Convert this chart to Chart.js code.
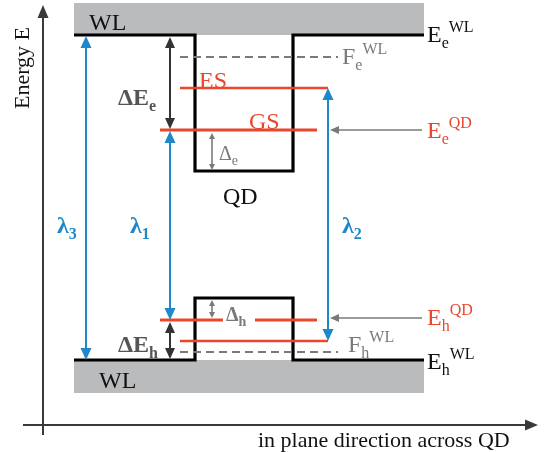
<!DOCTYPE html>
<html>
<head>
<meta charset="utf-8">
<script src="https://cdn.jsdelivr.net/npm/chart.js@4/dist/chart.umd.min.js"></script>
<style>
  html, body { margin: 0; padding: 0; background: #ffffff; }
  #wrap { width: 547px; height: 452px; }
</style>
</head>
<body>
<div id="wrap"><canvas id="diagram" width="547" height="452"></canvas></div>
<script>
// Band profile across the quantum dot (position along the plane, energy downwards on screen)
const bandX          = [74, 195, 195, 293, 293, 424];
const conductionEdge = [35, 35, 171, 171, 35, 35];
const valenceEdge    = [360, 360, 298, 298, 360, 360];

// Wetting-layer continuum blocks: [left, right] and [upper, lower] energies
const wlBoxX      = [74, 424];
const wlUpperBox  = [3, 35];
const wlLowerBox  = [360, 393];

// Confined levels: ES_e, GS_e, GS_h (two pieces around the label), ES_h
const levelStart  = [180, 160, 160, 255, 180];
const levelEnd    = [328, 317, 223, 317, 328];
const levelEnergy = [88, 130, 320, 320, 341];

// Quasi-Fermi levels of the wetting layer (electrons, holes)
const fermiStart  = [180, 180];
const fermiEnd    = [338, 338];
const fermiEnergy = [57, 352];

// Optical transitions lambda1, lambda2, lambda3
const lambdaNames  = ['1', '2', '3'];
const lambdaX      = [170, 328, 86];
const lambdaUpper  = [131, 88, 36];
const lambdaLower  = [320, 341, 360];

// Energy gaps: ΔE_e, ΔE_h, Δ_e, Δ_h
const gapX     = [170, 170, 212, 212];
const gapUpper = [37, 322, 133, 300];
const gapLower = [129, 359, 170, 318];

// Pointers to the dot energies E_e^QD, E_h^QD
const pointerFrom   = 422;
const pointerTo     = 330;
const pointerEnergy = [130, 318];

// Coordinate axes
const axisOrigin = [43, 425];
const axisEnds   = [538, 5];
const axisTails  = [23, 435];

// Texts: main, subscript, superscript
const labelMain = ['WL', 'WL', 'E', 'F', 'ES', 'GS', 'E', 'ΔE', 'Δ', 'QD', 'λ', 'λ', 'λ', 'Δ', 'ΔE', 'F', 'E', 'E'];
const labelSub  = ['', '', 'e', 'e', '', '', 'e', 'e', 'e', '', '3', '1', '2', 'h', 'h', 'h', 'h', 'h'];
const labelSup  = ['', '', 'WL', 'WL', '', '', 'QD', '', '', '', '', '', '', '', '', 'WL', 'QD', 'WL'];
const labelX    = [89, 99, 427, 342, 199, 249, 427, 118, 219, 223, 57, 130, 342, 226, 118, 348, 427, 427];
const labelY    = [22, 380, 34, 56, 80, 121, 130, 97, 153, 196, 225, 225, 225, 314, 344, 344, 317, 361];

const axisTitleY = 'Energy E';
const axisTitleX = 'in plane direction across QD';

const RED = '#e8472e', BLUE = '#1e88c8', DARK = '#333333', GREY = '#7a7a7a', BOX = '#b9bbbc';
const SERIF = '"Liberation Serif", "DejaVu Serif", serif';

const labelColor = [ '#111', '#111', '#111', GREY, RED, RED, RED, '#555', GREY, '#111',
                     BLUE, BLUE, BLUE, GREY, '#555', GREY, RED, '#111' ];
const labelBold  = [false, false, false, false, false, false, false, true, false, false,
                    true, true, true, true, true, false, false, false];

function pts(xs, ys) { return xs.map((x, i) => ({ x: x, y: ys[i] })); }

const datasets = [];
// wetting-layer blocks
datasets.push({ data: pts(wlBoxX, [wlUpperBox[0], wlUpperBox[0]]), fill: { value: wlUpperBox[1] },
  backgroundColor: BOX, borderWidth: 0, order: 10 });
datasets.push({ data: pts(wlBoxX, [wlLowerBox[1], wlLowerBox[1]]), fill: { value: wlLowerBox[0] },
  backgroundColor: BOX, borderWidth: 0, order: 10 });
// band edges
datasets.push({ data: pts(bandX, conductionEdge), borderColor: '#000', borderWidth: 3.2, order: 5,
  borderJoinStyle: 'miter', fill: false });
datasets.push({ data: pts(bandX, valenceEdge), borderColor: '#000', borderWidth: 3.2, order: 5,
  borderJoinStyle: 'miter', fill: false });
// Fermi levels
fermiEnergy.forEach((e, i) => datasets.push({
  data: pts([fermiStart[i], fermiEnd[i]], [e, e]), borderColor: GREY, borderWidth: 2,
  borderDash: [8, 5], order: 4, fill: false }));
// confined levels
levelEnergy.forEach((e, i) => datasets.push({
  data: pts([levelStart[i], levelEnd[i]], [e, e]), borderColor: RED,
  borderWidth: (i === 0 || i === 4) ? 2.4 : 3.2, order: 3, fill: false }));

function head(ctx, x, y, dx, dy, len, half, color) {
  const n = Math.hypot(dx, dy), ux = dx / n, uy = dy / n;
  ctx.beginPath();
  ctx.moveTo(x, y);
  ctx.lineTo(x - ux * len - uy * half, y - uy * len + ux * half);
  ctx.lineTo(x - ux * len + uy * half, y - uy * len - ux * half);
  ctx.closePath();
  ctx.fillStyle = color;
  ctx.fill();
}

function arrow(ctx, x1, y1, x2, y2, color, width, len, half, both) {
  const n = Math.hypot(x2 - x1, y2 - y1), ux = (x2 - x1) / n, uy = (y2 - y1) / n;
  ctx.beginPath();
  ctx.moveTo(both ? x1 + ux * len * 0.8 : x1, both ? y1 + uy * len * 0.8 : y1);
  ctx.lineTo(x2 - ux * len * 0.8, y2 - uy * len * 0.8);
  ctx.strokeStyle = color;
  ctx.lineWidth = width;
  ctx.stroke();
  head(ctx, x2, y2, ux, uy, len, half, color);
  if (both) head(ctx, x1, y1, -ux, -uy, len, half, color);
}

function richText(ctx, x, y, main, sub, sup, size, color, bold) {
  const w = bold ? 'bold ' : '';
  const base = y + size * 0.33;
  ctx.fillStyle = color;
  ctx.textBaseline = 'alphabetic';
  ctx.textAlign = 'left';
  ctx.font = w + size + 'px ' + SERIF;
  ctx.fillText(main, x, base);
  let cx = x + ctx.measureText(main).width;
  const small = Math.round(size * 0.68);
  ctx.font = w + small + 'px ' + SERIF;
  if (sub) { ctx.fillText(sub, cx, base + size * 0.26); cx += ctx.measureText(sub).width; }
  if (sup) { ctx.fillText(sup, cx, base - size * 0.42); }
}

const diagramPlugin = {
  id: 'bandDiagram',
  afterDatasetsDraw(chart) {
    const ctx = chart.ctx, sx = chart.scales.x, sy = chart.scales.y;
    const X = v => sx.getPixelForValue(v), Y = v => sy.getPixelForValue(v);
    ctx.save();
    // axes
    arrow(ctx, X(axisOrigin[0]), Y(axisTails[1]), X(axisOrigin[0]), Y(axisEnds[1]), '#3a3a3a', 2, 13, 5.5, false);
    arrow(ctx, X(axisTails[0]), Y(axisOrigin[1]), X(axisEnds[0]), Y(axisOrigin[1]), '#3a3a3a', 2, 13, 5.5, false);
    // energy gaps
    gapX.forEach((gx, i) => {
      const big = i < 2;
      arrow(ctx, X(gx), Y(gapUpper[i]), X(gx), Y(gapLower[i]), big ? DARK : GREY,
        big ? 2 : 1.6, big ? 11 : 6, big ? 5 : 3, true);
    });
    // optical transitions
    lambdaX.forEach((lx, i) => {
      arrow(ctx, X(lx), Y(lambdaUpper[i]), X(lx), Y(lambdaLower[i]), BLUE, 2, 12, 5.5, true);
    });
    // pointers
    pointerEnergy.forEach(e => {
      arrow(ctx, X(pointerFrom), Y(e), X(pointerTo), Y(e), GREY, 1.6, 9, 4, false);
    });
    // labels
    labelMain.forEach((m, i) => {
      const size = (m === 'Δ') ? 20 : 24;
      richText(ctx, X(labelX[i]), Y(labelY[i]), m, labelSub[i], labelSup[i], size, labelColor[i], labelBold[i]);
    });
    // axis titles
    ctx.fillStyle = '#111';
    ctx.font = '22px ' + SERIF;
    ctx.textAlign = 'left';
    ctx.textBaseline = 'alphabetic';
    ctx.fillText(axisTitleX, X(258), Y(447));
    ctx.translate(X(29), Y(68));
    ctx.rotate(-Math.PI / 2);
    ctx.textAlign = 'center';
    ctx.fillText(axisTitleY, 0, 0);
    ctx.restore();
  }
};

new Chart(document.getElementById('diagram'), {
  type: 'line',
  data: { datasets: datasets },
  options: {
    responsive: false,
    animation: false,
    events: [],
    layout: { padding: 0 },
    plugins: { legend: { display: false }, tooltip: { enabled: false } },
    elements: { point: { radius: 0 }, line: { tension: 0, borderCapStyle: 'butt' } },
    scales: {
      x: { type: 'linear', min: 0, max: 547, display: false },
      y: { type: 'linear', min: 0, max: 452, reverse: true, display: false }
    }
  },
  plugins: [diagramPlugin]
});
</script>
</body>
</html>
